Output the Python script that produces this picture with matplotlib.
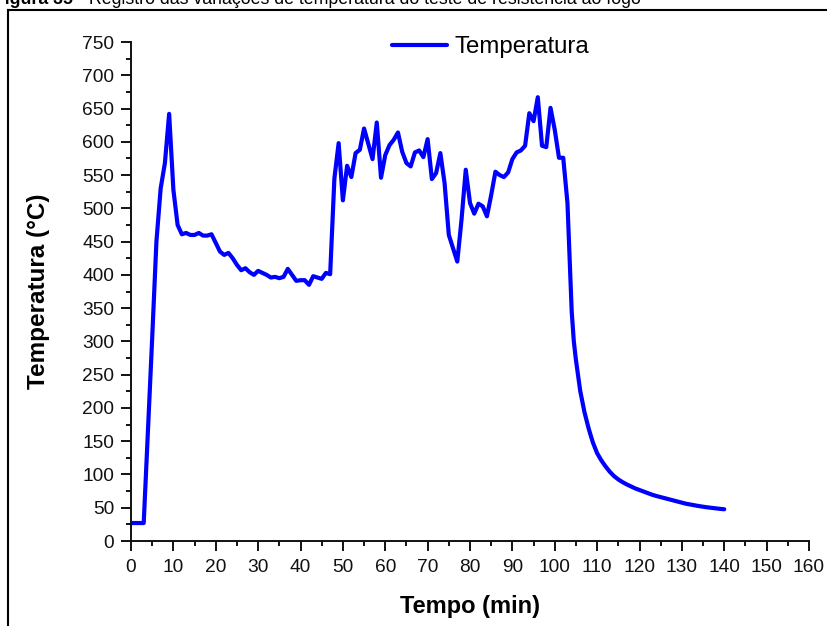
import matplotlib
matplotlib.use("Agg")
import matplotlib.pyplot as plt
from matplotlib.lines import Line2D
from matplotlib.ticker import MultipleLocator

plt.rcParams['font.family'] = ['Liberation Sans', 'DejaVu Sans']

# Furnace temperature log (minutes, degrees C)
tempo = [0, 1, 2, 3, 4, 5, 6, 7, 8, 9,
         10, 11, 12, 13, 14, 15, 16, 17, 18, 19,
         20, 21, 22, 23, 24, 25, 26, 27, 28, 29,
         30, 31, 32, 33, 34, 35, 36, 37, 38, 39,
         40, 41, 42, 43, 44, 45, 46, 47, 48, 49,
         50, 51, 52, 53, 54, 55, 56, 57, 58, 59,
         60, 61, 62, 63, 64, 65, 66, 67, 68, 69,
         70, 71, 72, 73, 74, 75, 76, 77, 78, 79,
         80, 81, 82, 83, 84, 85, 86, 87, 88, 89,
         90, 91, 92, 93, 94, 95, 96, 97, 98, 99,
         100, 101, 102, 103, 103.5, 104, 104.5, 105, 106, 107, 108, 109,
         110, 111, 112, 113, 114, 115, 116, 117, 118, 119,
         120, 121, 122, 123, 124, 125, 126, 127, 128, 129,
         130, 131, 132, 133, 134, 135, 136, 137, 138, 139,
         140]
temperatura = [27, 27, 27, 27, 165, 305, 450, 530, 568, 642,
               528, 475, 461, 463, 460, 460, 463, 459, 459, 461,
               448, 435, 430, 433, 425, 415, 407, 410, 404, 400,
               406, 403, 400, 396, 397, 395, 397, 409, 400, 391,
               392, 392, 385, 398, 396, 394, 403, 401, 545, 598,
               512, 564, 547, 583, 588, 620, 597, 574, 629, 546,
               580, 595, 603, 614, 585, 568, 563, 584, 587, 577,
               604, 544, 553, 583, 538, 460, 440, 420, 483, 558,
               508, 492, 507, 503, 488, 520, 555, 550, 547, 554,
               574, 584, 587, 594, 643, 631, 667, 594, 592, 651,
               618, 576, 576, 508, 425, 345, 300, 272, 226, 194, 169, 148,
               132, 121, 112, 104, 97.5, 92.5, 88.5, 85, 82, 79,
               76.6, 74.2, 71.8, 69.5, 67.6, 66, 64.3, 62.6, 61, 59.3,
               57.6, 56, 54.8, 53.6, 52.5, 51.5, 50.6, 49.8, 49, 48.3,
               47.7]

serie_label = "Temperatura"
x_label = "Tempo (min)"
y_label = "Temperatura (°C)"
titulo_negrito = "Figura 35 -"
titulo_resto = " Registro das variações de temperatura do teste de resistência ao fogo"

W, H = 827, 626
fig = plt.figure(figsize=(W / 100, H / 100), dpi=100)
ax = fig.add_axes([131 / W, (H - 541) / H, (809 - 131) / W, (541 - 42) / H])

ax.plot(tempo, temperatura, color='#0000ff', lw=3.0, label=serie_label,
        solid_joinstyle='round', solid_capstyle='round')

ax.set_xlim(0, 160)
ax.set_ylim(0, 750)
ax.xaxis.set_major_locator(MultipleLocator(10))
ax.xaxis.set_minor_locator(MultipleLocator(5))
ax.yaxis.set_major_locator(MultipleLocator(50))
ax.yaxis.set_minor_locator(MultipleLocator(25))

for side in ('top', 'right'):
    ax.spines[side].set_visible(False)
for side in ('left', 'bottom'):
    ax.spines[side].set_linewidth(1.4)
    ax.spines[side].set_color('#111111')

ax.tick_params(which='major', direction='out', length=7, width=1.4,
               labelsize=13.8, colors='#111111', pad=5)
ax.tick_params(which='minor', direction='out', length=3.8, width=1.4,
               colors='#111111')
ax.tick_params(axis='x', which='major', pad=6)

ax.set_xlabel(x_label, fontsize=17, fontweight='bold', labelpad=14)
ax.set_ylabel(y_label, fontsize=17.5, fontweight='bold', labelpad=23)

ax.legend(loc='center left', bbox_to_anchor=(392 / W, 1 - 47 / H),
          bbox_transform=fig.transFigure, frameon=False, fontsize=17.3,
          borderaxespad=0, borderpad=0, handlelength=2.3, handletextpad=0.3)

# outer frame of the figure box
fig.add_artist(Line2D([8 / W, 8 / W], [0, 1 - 10 / H], transform=fig.transFigure,
                      color='black', lw=1.5))
fig.add_artist(Line2D([8 / W, 1], [1 - 10 / H, 1 - 10 / H], transform=fig.transFigure,
                      color='black', lw=1.5))

# caption line running off the top edge
t1 = fig.text(-5.6 / W, 1 - 3.5 / H, titulo_negrito, fontsize=12.8,
              fontweight='bold', va='baseline', ha='left')
fig.canvas.draw()
bb = t1.get_window_extent(renderer=fig.canvas.get_renderer())
fig.text(bb.x1 / W, 1 - 3.5 / H, titulo_resto, fontsize=12.8,
         va='baseline', ha='left')

fig.savefig("out.png", dpi=100)
